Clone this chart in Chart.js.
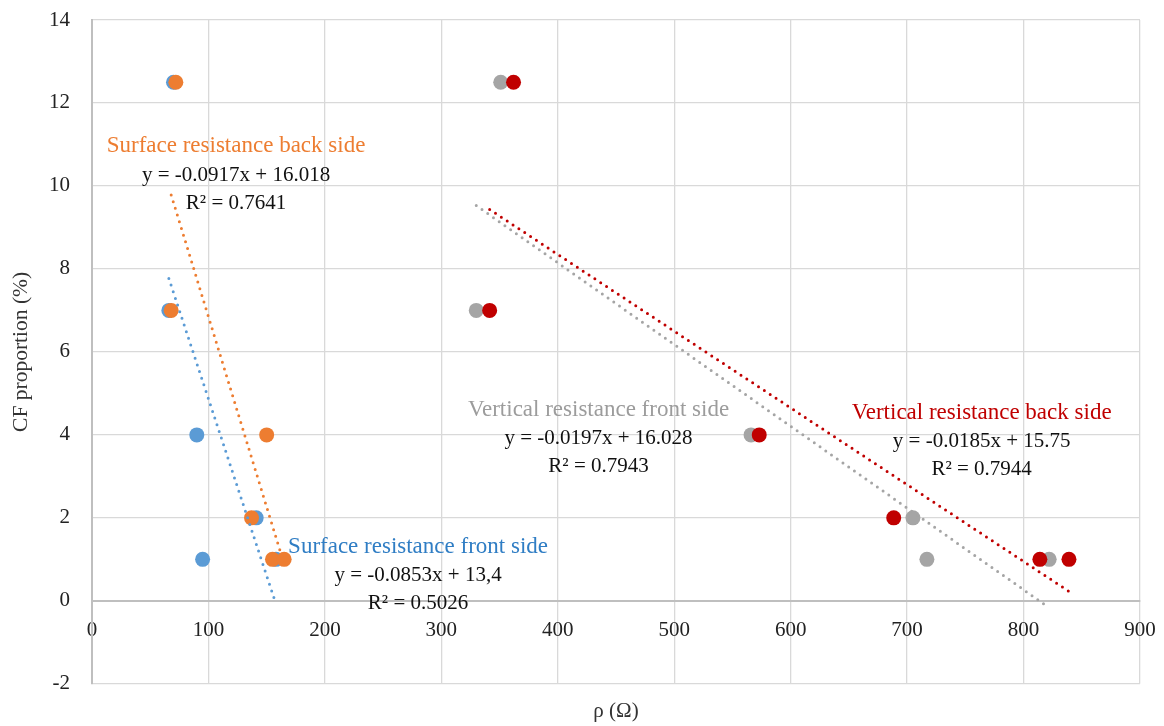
<!DOCTYPE html>
<html>
<head>
<meta charset="utf-8">
<script src="https://cdn.jsdelivr.net/npm/chart.js@4.4.1/dist/chart.umd.min.js"></script>
<style>
  html, body { margin: 0; background: #fff; }
  #wrap { width: 1164px; height: 726px; }
</style>
</head>
<body>
<div id="wrap"><canvas id="chart"></canvas></div>
<script>
// CF proportion vs. resistivity, four measurement series with linear fits
const SERIF = '"Liberation Serif", "DejaVu Serif", serif';

const seriesNames = [
  "Surface resistance front side",
  "Surface resistance back side",
  "Vertical resistance front side",
  "Vertical resistance back side"
];

const surfFrontX = [70, 66, 90, 141, 95, 158];
const surfFrontY = [12.5, 7, 4, 2, 1, 1];
const surfBackX  = [72, 68, 150, 137, 155, 165];
const surfBackY  = [12.5, 7, 4, 2, 1, 1];
const vertFrontX = [351, 330, 566, 705, 717, 822];
const vertFrontY = [12.5, 7, 4, 2, 1, 1];
const vertBackX  = [362, 341.5, 573, 688.5, 814, 839];
const vertBackY  = [12.5, 7, 4, 2, 1, 1];

// linear trendlines y = a*x + b
const fitSlope     = [-0.0853, -0.0917, -0.0197, -0.0185];
const fitIntercept = [13.4, 16.018, 16.028, 15.75];
const fitEquations = ["y = -0.0853x + 13,4", "y = -0.0917x + 16.018", "y = -0.0197x + 16.028", "y = -0.0185x + 15.75"];
const fitR2        = ["0.5026", "0.7641", "0.7943", "0.7944"];

const xTickMin = 0, xTickMax = 900, xTickStep = 100;
const yTickMin = -2, yTickMax = 14, yTickStep = 2;

const markerColors = ["#5B9BD5", "#ED7D31", "#A5A5A5", "#C00000"];
const labelColors  = ["#2F7DC4", "#ED7D31", "#9C9C9C", "#C00000"];
// where each fit label block sits, in data units (centre of the name line)
const labelSpots = [
  { x: 280, y: 1.30 },
  { x: 123.7, y: 10.96 },
  { x: 435, y: 4.60 },
  { x: 764, y: 4.53 }
];

const seriesX = [surfFrontX, surfBackX, vertFrontX, vertBackX];
const seriesY = [surfFrontY, surfBackY, vertFrontY, vertBackY];

const points = (xs, ys) => xs.map((x, i) => ({ x, y: ys[i] }));
function fitLine(i) {
  const xs = seriesX[i];
  const lo = Math.min(...xs), hi = Math.max(...xs);
  return [lo, hi].map(v => ({ x: v, y: fitSlope[i] * v + fitIntercept[i] }));
}

const datasets = [];
// trendlines on top of all markers
seriesNames.forEach((name, i) => {
  datasets.push({
    label: name + " fit", data: fitLine(i), showLine: true,
    borderColor: markerColors[i], borderWidth: 3, borderDash: [0, 7], borderCapStyle: "round",
    pointRadius: 0, fill: false, order: 0
  });
});
// later series drawn over earlier ones
seriesNames.forEach((name, i) => {
  datasets.push({
    label: name, data: points(seriesX[i], seriesY[i]), showLine: false,
    backgroundColor: markerColors[i], borderWidth: 0, pointRadius: 7.5, pointHoverRadius: 7.5,
    order: 4 - i
  });
});

const fitLabels = {
  id: "fitLabels",
  afterDatasetsDraw(chart) {
    const { ctx, scales: { x, y } } = chart;
    ctx.save();
    ctx.textAlign = "center";
    ctx.textBaseline = "middle";
    labelSpots.forEach((p, i) => {
      const px = x.getPixelForValue(p.x), py = y.getPixelForValue(p.y);
      ctx.font = "23px " + SERIF;
      ctx.fillStyle = labelColors[i];
      ctx.fillText(seriesNames[i], px, py);
      ctx.font = "21px " + SERIF;
      ctx.fillStyle = "#111";
      ctx.fillText(fitEquations[i], px, py + 29);
      ctx.fillText("R\u00B2 = " + fitR2[i], px, py + 57);
    });
    ctx.restore();
  }
};

const tickFont = { family: SERIF, size: 21 };

new Chart(document.getElementById("chart"), {
  type: "scatter",
  data: { datasets },
  plugins: [fitLabels],
  options: {
    responsive: true, maintainAspectRatio: false, animation: false,
    layout: { padding: { left: 0, right: 24, top: 20, bottom: 0 } },
    plugins: {
      legend: { display: false },
      tooltip: { enabled: false },
      title: {
        display: true, text: "\u03C1 (\u03A9)", position: "bottom", fullSize: false,
        color: "#333", font: { family: SERIF, size: 21, weight: "normal" },
        padding: { top: 15, bottom: 2 }
      }
    },
    scales: {
      x: {
        type: "linear", position: { y: 0 },
        min: xTickMin, max: xTickMax,
        ticks: { stepSize: xTickStep, padding: 17, color: "#222", font: tickFont, maxRotation: 0 },
        grid: { color: "#D9D9D9", lineWidth: 1.3, drawTicks: false },
        border: { color: "#BFBFBF", width: 2 },
        afterFit: s => { s.height = 0; s.paddingLeft = 0; s.paddingRight = 0; }
      },
      y: {
        min: yTickMin, max: yTickMax,
        ticks: { stepSize: yTickStep, padding: 22, color: "#222", font: tickFont },
        grid: { color: "#D9D9D9", lineWidth: 1.3, drawTicks: false },
        border: { color: "#BFBFBF", width: 2 },
        title: { display: true, text: "CF proportion (%)", color: "#333", font: { family: SERIF, size: 21.5 }, padding: { top: 8 } },
        afterFit: s => { s.width = 92; s.paddingTop = 0; s.paddingBottom = 0; }
      }
    }
  }
});
</script>
</body>
</html>
